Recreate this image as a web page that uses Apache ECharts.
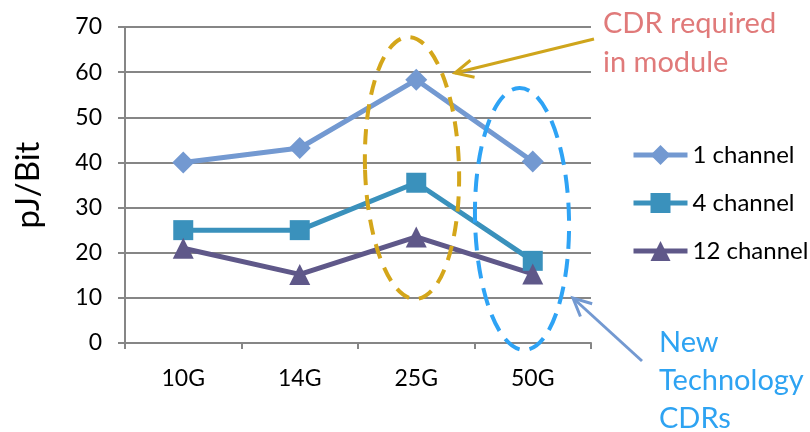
<!DOCTYPE html>
<html><head><meta charset="utf-8">
<script src="https://cdn.jsdelivr.net/npm/echarts@6/dist/echarts.min.js"></script>
<style>html,body{margin:0;padding:0;background:#fff}#c{width:810px;height:432px}</style>
</head><body><div id="c"></div>
<script>
var categories = ['10G', '14G', '25G', '50G'];
var oneChannel = [40, 43.2, 58.3, 40.2];
var fourChannel = [25, 25, 35.5, 18.2];
var twelveChannel = [21, 15.2, 23.5, 15.3];
var seriesNames = ['1 channel', '4 channel', '12 channel'];
var yTicks = [0, 10, 20, 30, 40, 50, 60, 70];

var FONT = 'Lato';
var chart = echarts.init(document.getElementById('c'), null, {renderer: 'canvas'});

function arrow(x1, y1, x2, y2, color, w, head) {
  var a = Math.atan2(y2 - y1, x2 - x1);
  var sp = 0.45;
  var p1 = [x2 - head * Math.cos(a - sp), y2 - head * Math.sin(a - sp)];
  var p2 = [x2 - head * Math.cos(a + sp), y2 - head * Math.sin(a + sp)];
  return [
    {type: 'line', shape: {x1: x1, y1: y1, x2: x2, y2: y2}, style: {stroke: color, lineWidth: w}, z: 10},
    {type: 'polyline', shape: {points: [p1, [x2, y2], p2]}, style: {stroke: color, lineWidth: w, fill: null}, z: 10}
  ];
}

var graphics = [
  {type: 'ellipse', shape: {cx: 0, cy: 0, rx: 47, ry: 131}, x: 412, y: 168, rotation: 0.03,
   style: {fill: null, stroke: '#D4A61A', lineWidth: 4, lineDash: [15, 10]}, z: 9},
  {type: 'ellipse', shape: {cx: 0, cy: 0, rx: 47, ry: 131}, x: 522, y: 219, rotation: 0.02,
   style: {fill: null, stroke: '#2EA3F5', lineWidth: 4, lineDash: [18, 10]}, z: 9},
  {type: 'text', left: 603, top: 4, style: {text: 'CDR required\nin module', fill: '#E07A7A', font: '29px ' + FONT, lineHeight: 39}, z: 11},
  {type: 'text', left: 659, top: 324, style: {text: 'New\nTechnology\nCDRs', fill: '#2EA3F2', font: '29px ' + FONT, lineHeight: 38}, z: 11}
].concat(arrow(594, 39, 455, 73, '#CFA51C', 3, 20))
 .concat(arrow(642, 361, 573, 298, '#7399D1', 3, 20));

var common = {type: 'line', emphasis: {disabled: true}, z: 3};

chart.setOption({
  animation: false,
  textStyle: {fontFamily: FONT},
  grid: {left: 125, right: 219, top: 27, bottom: 89},
  legend: {
    orient: 'vertical', left: 626, top: 138, itemWidth: 54, itemHeight: 25, itemGap: 24,
    textStyle: {fontFamily: FONT, fontSize: 24, color: '#000'},
    lineStyle: {width: 5},
    data: seriesNames
  },
  xAxis: {
    type: 'category', data: categories, boundaryGap: true,
    axisLine: {lineStyle: {color: '#868686', width: 2}},
    axisTick: {show: true, length: 6, lineStyle: {color: '#868686', width: 2}},
    axisLabel: {fontFamily: FONT, fontSize: 23, color: '#000', margin: 24}
  },
  yAxis: {
    type: 'value', min: 0, max: 70, interval: 10,
    name: 'pJ/Bit', nameLocation: 'middle', nameGap: 80,
    nameTextStyle: {fontFamily: FONT, fontSize: 33, color: '#000'},
    axisLine: {show: true, lineStyle: {color: '#868686', width: 2}},
    axisTick: {show: true, length: 7, lineStyle: {color: '#868686', width: 2}},
    axisLabel: {fontFamily: FONT, fontSize: 23, color: '#000', margin: 23,
      formatter: function (v) { return yTicks.indexOf(v) >= 0 ? String(v) : ''; }},
    splitLine: {lineStyle: {color: '#868686', width: 2}}
  },
  series: [
    Object.assign({}, common, {name: seriesNames[0], data: oneChannel, symbol: 'diamond', symbolSize: 22,
      itemStyle: {color: '#7399D1'}, lineStyle: {width: 5, color: '#7399D1'}}),
    Object.assign({}, common, {name: seriesNames[1], data: fourChannel, symbol: 'rect', symbolSize: 20,
      itemStyle: {color: '#3A91BC'}, lineStyle: {width: 5, color: '#3A91BC'}}),
    Object.assign({}, common, {name: seriesNames[2], data: twelveChannel, symbol: 'triangle', symbolSize: 21,
      itemStyle: {color: '#5F5889'}, lineStyle: {width: 5, color: '#5F5889'}})
  ],
  graphic: graphics
});
</script></body></html>
